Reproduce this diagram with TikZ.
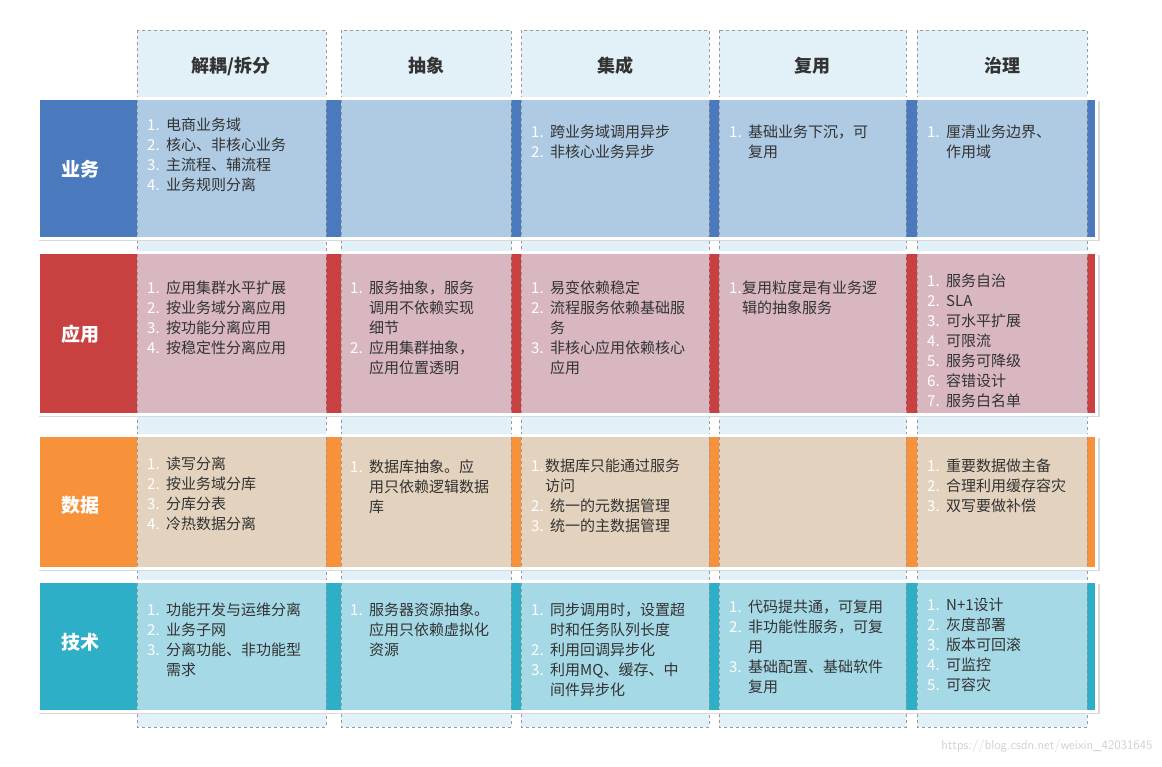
\documentclass[tikz,border=0pt]{standalone}
\usepackage{fontspec}
\setmainfont{Noto Sans CJK SC}
\usetikzlibrary{calc}
\definecolor{cB}{HTML}{4A7ABD}\definecolor{cR}{HTML}{C8403F}
\definecolor{cO}{HTML}{F7923A}\definecolor{cT}{HTML}{2EAFC8}
\definecolor{iB}{HTML}{AECBE3}\definecolor{iR}{HTML}{D8B7C1}
\definecolor{iO}{HTML}{E3D2BD}\definecolor{iT}{HTML}{A6D9E6}
\definecolor{colf}{HTML}{E2F1F8}\definecolor{txt}{HTML}{333333}
\newcommand{\nm}[1]{\makebox[19pt][l]{\color{white}#1}}
\tikzset{
 cell/.style={anchor=north west,inner sep=0pt,align=left,text=txt,font=\fontsize{15}{20}\selectfont,yshift=-5pt},
 rowlab/.style={text=white,font=\fontsize{19}{22}\selectfont\bfseries},
 head/.style={text=txt,font=\fontsize{18}{22}\selectfont\bfseries},
 colbox/.style={draw=gray!80,dashed,fill=colf},
}
\begin{document}
\begin{tikzpicture}[x=1pt,y=-1pt]
\useasboundingbox (0,0) rectangle (1162,766);
\fill[white] (0,0) rectangle (1162,766);
\foreach \a/\b [count=\i] in {137/326,341/511,521/709,719/906,917/1087}
  \draw[colbox] (\a,30) rectangle (\b,727);
\foreach \t/\bt/\c/\ic in {100/237/cB/iB,254/413/cR/iR,437/567/cO/iO,583/710/cT/iT}{
  \fill[black!15] (39,\t+1) rectangle (1100,\bt+4);
  \fill[white] (37,\t-3) rectangle (1098,\bt+3);
  \fill[\c] (40,\t) rectangle (1095,\bt);
  \foreach \a/\b in {137/326,341/511,521/709,719/906,917/1087}{
    \fill[\ic] (\a,\t) rectangle (\b,\bt);
    \draw[gray!80,dashed] (\a,\t) -- (\a,\bt) (\b,\t) -- (\b,\bt);}
}
\node[head] (h1) at (231,66) {解耦/拆分};
\node[head] (h2) at (426,66) {抽象};
\node[head] (h3) at (615,66) {集成};
\node[head] (h4) at (812,66) {复用};
\node[head] (h5) at (1002,66) {治理};
\node[rowlab] (r1) at (80,169) {业务};
\node[rowlab] (r2) at (80,334) {应用};
\node[rowlab] (r3) at (80,505) {数据};
\node[rowlab] (r4) at (80,642) {技术};
\node[cell] (c11) at (147,113) {\nm{1.}电商业务域\\\nm{2.}核心、非核心业务\\\nm{3.}主流程、辅流程\\\nm{4.}业务规则分离};
\node[cell] (c13) at (531,120) {\nm{1.}跨业务域调用异步\\\nm{2.}非核心业务异步};
\node[cell] (c14) at (729,120) {\nm{1.}基础业务下沉，可\\\nm{}复用};
\node[cell] (c15) at (927,120) {\nm{1.}厘清业务边界、\\\nm{}作用域};
\node[cell] (c21) at (147,276) {\nm{1.}应用集群水平扩展\\\nm{2.}按业务域分离应用\\\nm{3.}按功能分离应用\\\nm{4.}按稳定性分离应用};
\node[cell] (c22) at (350,276) {\nm{1.}服务抽象，服务\\\nm{}调用不依赖实现\\\nm{}细节\\\nm{2.}应用集群抽象，\\\nm{}应用位置透明};
\node[cell] (c23) at (531,276) {\nm{1.}易变依赖稳定\\\nm{2.}流程服务依赖基础服\\\nm{}务\\\nm{3.}非核心应用依赖核心\\\nm{}应用};
\node[cell] (c24) at (729,276) {\makebox[13pt][l]{\color{white}1.}复用粒度是有业务逻\\\makebox[13pt][l]{}辑的抽象服务};
\node[cell] (c25) at (927,269) {\nm{1.}服务自治\\\nm{2.}SLA\\\nm{3.}可水平扩展\\\nm{4.}可限流\\\nm{5.}服务可降级\\\nm{6.}容错设计\\\nm{7.}服务白名单};
\node[cell] (c31) at (147,452) {\nm{1.}读写分离\\\nm{2.}按业务域分库\\\nm{3.}分库分表\\\nm{4.}冷热数据分离};
\node[cell] (c32) at (350,455) {\nm{1.}数据库抽象。应\\\nm{}用只依赖逻辑数据\\\nm{}库};
\node[cell] (c33) at (531,454) {\makebox[14pt][l]{\color{white}1.}数据库只能通过服务\\\makebox[14pt][l]{}访问\\\nm{2.}统一的元数据管理\\\nm{3.}统一的主数据管理};
\node[cell] (c35) at (927,454) {\nm{1.}重要数据做主备\\\nm{2.}合理利用缓存容灾\\\nm{3.}双写要做补偿};
\node[cell] (c41) at (147,598) {\nm{1.}功能开发与运维分离\\\nm{2.}业务子网\\\nm{3.}分离功能、非功能型\\\nm{}需求};
\node[cell] (c42) at (350,598) {\nm{1.}服务器资源抽象。\\\nm{}应用只依赖虚拟化\\\nm{}资源};
\node[cell] (c43) at (531,598) {\nm{1.}同步调用时，设置超\\\nm{}时和任务队列长度\\\nm{2.}利用回调异步化\\\nm{3.}利用MQ、缓存、中\\\nm{}间件异步化};
\node[cell] (c44) at (729,595) {\nm{1.}代码提共通，可复用\\\nm{2.}非功能性服务，可复\\\nm{}用\\\nm{3.}基础配置、基础软件\\\nm{}复用};
\node[cell] (c45) at (927,593) {\nm{1.}N+1设计\\\nm{2.}灰度部署\\\nm{3.}版本可回滚\\\nm{4.}可监控\\\nm{5.}可容灾};
\node[anchor=east,text=black!18,font=\fontsize{13}{15}\selectfont\sffamily] (wm) at (1156,746) {https://blog.csdn.net/weixin\_42031645};
\end{tikzpicture}
\end{document}
